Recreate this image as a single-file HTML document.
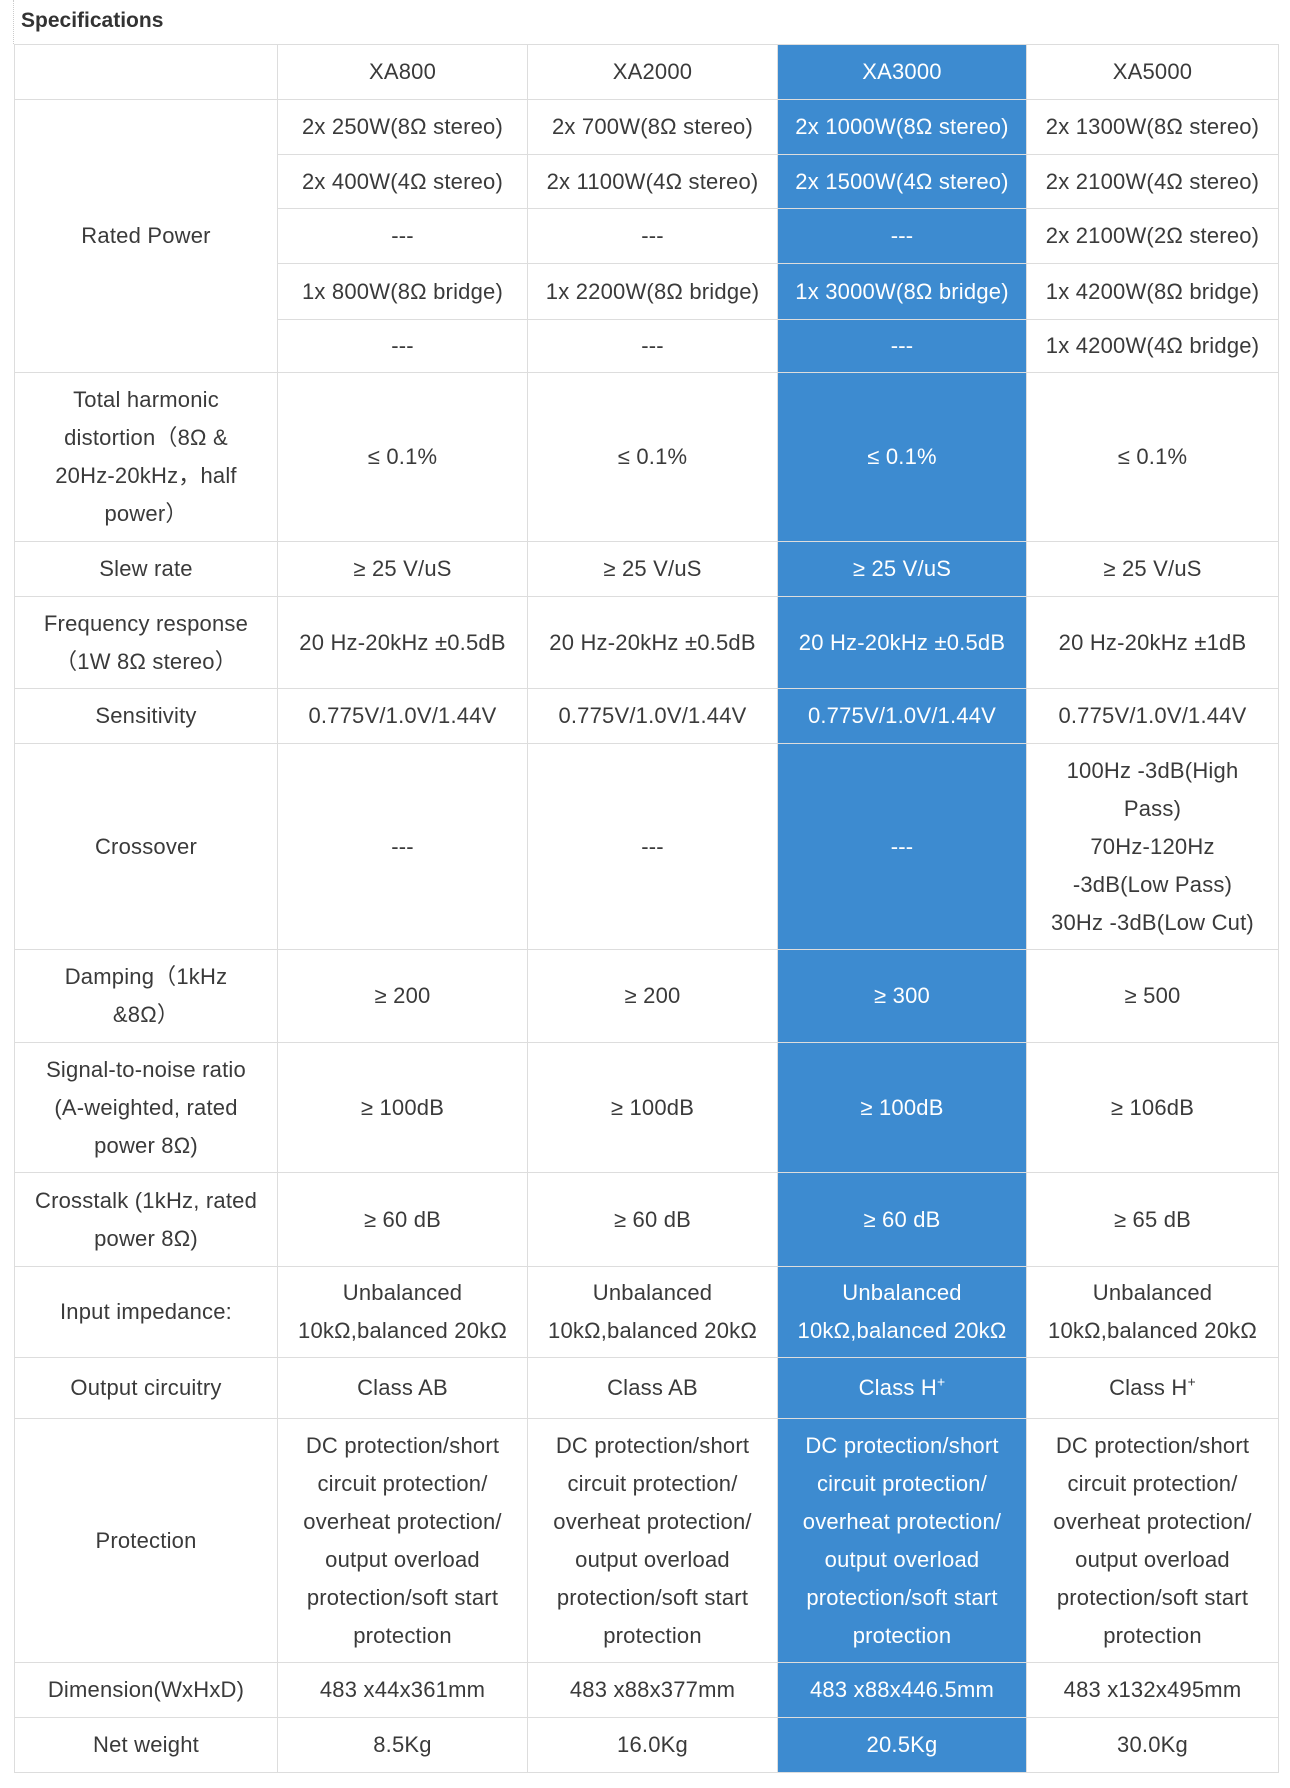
<!DOCTYPE html>
<html><head><meta charset="utf-8"><style>
html,body{margin:0;padding:0;background:#fff;width:1290px;height:1788px;overflow:hidden}
body{font-family:"Liberation Sans",Arial,sans-serif;color:#333}
.title{position:absolute;left:21px;top:9px;font-size:21px;font-weight:bold;color:#333}
.dash{position:absolute;left:13px;top:0;height:44px;border-left:1px dotted #ccc}
table{position:absolute;left:14px;top:44px;border-collapse:collapse;table-layout:fixed;width:1264px}
td{border:1px solid #ddd;text-align:center;vertical-align:middle;font-size:22px;line-height:38px;padding:0 2px;color:#3a3a3a;white-space:nowrap;letter-spacing:0.2px}
td.b{background:#3d8bd0;color:#fff;border-color:#ddd}
sup{font-size:14px;line-height:0}
</style></head><body>
<div class="dash"></div>
<div class="title">Specifications</div>
<table>
<colgroup><col style="width:263px"><col style="width:250px"><col style="width:250px"><col style="width:249px"><col style="width:252px"></colgroup>
<tr style="height:55px"><td></td><td>XA800</td><td>XA2000</td><td class="b">XA3000</td><td>XA5000</td></tr>
<tr style="height:55px"><td rowspan="5">Rated Power</td><td>2x 250W(8Ω stereo)</td><td>2x 700W(8Ω stereo)</td><td class="b">2x 1000W(8Ω stereo)</td><td>2x 1300W(8Ω stereo)</td></tr>
<tr style="height:54px"><td>2x 400W(4Ω stereo)</td><td>2x 1100W(4Ω stereo)</td><td class="b">2x 1500W(4Ω stereo)</td><td>2x 2100W(4Ω stereo)</td></tr>
<tr style="height:55px"><td>---</td><td>---</td><td class="b">---</td><td>2x 2100W(2Ω stereo)</td></tr>
<tr style="height:56px"><td>1x 800W(8Ω bridge)</td><td>1x 2200W(8Ω bridge)</td><td class="b">1x 3000W(8Ω bridge)</td><td>1x 4200W(8Ω bridge)</td></tr>
<tr style="height:53px"><td>---</td><td>---</td><td class="b">---</td><td>1x 4200W(4Ω bridge)</td></tr>
<tr style="height:169px"><td>Total harmonic<br>distortion（8Ω &amp;<br>20Hz-20kHz，half<br>power）</td><td>≤ 0.1%</td><td>≤ 0.1%</td><td class="b">≤ 0.1%</td><td>≤ 0.1%</td></tr>
<tr style="height:55px"><td>Slew rate</td><td>≥ 25 V/uS</td><td>≥ 25 V/uS</td><td class="b">≥ 25 V/uS</td><td>≥ 25 V/uS</td></tr>
<tr style="height:92px"><td>Frequency response<br>（1W 8Ω stereo）</td><td>20 Hz-20kHz ±0.5dB</td><td>20 Hz-20kHz ±0.5dB</td><td class="b">20 Hz-20kHz ±0.5dB</td><td>20 Hz-20kHz ±1dB</td></tr>
<tr style="height:55px"><td>Sensitivity</td><td>0.775V/1.0V/1.44V</td><td>0.775V/1.0V/1.44V</td><td class="b">0.775V/1.0V/1.44V</td><td>0.775V/1.0V/1.44V</td></tr>
<tr style="height:206px"><td>Crossover</td><td>---</td><td>---</td><td class="b">---</td><td>100Hz -3dB(High<br>Pass)<br>70Hz-120Hz<br>-3dB(Low Pass)<br>30Hz -3dB(Low Cut)</td></tr>
<tr style="height:93px"><td>Damping（1kHz<br>&amp;8Ω）</td><td>≥ 200</td><td>≥ 200</td><td class="b">≥ 300</td><td>≥ 500</td></tr>
<tr style="height:130px"><td>Signal-to-noise ratio<br>(A-weighted, rated<br>power 8Ω)</td><td>≥ 100dB</td><td>≥ 100dB</td><td class="b">≥ 100dB</td><td>≥ 106dB</td></tr>
<tr style="height:94px"><td>Crosstalk (1kHz, rated<br>power 8Ω)</td><td>≥ 60 dB</td><td>≥ 60 dB</td><td class="b">≥ 60 dB</td><td>≥ 65 dB</td></tr>
<tr style="height:91px"><td>Input impedance:</td><td>Unbalanced<br>10kΩ,balanced 20kΩ</td><td>Unbalanced<br>10kΩ,balanced 20kΩ</td><td class="b">Unbalanced<br>10kΩ,balanced 20kΩ</td><td>Unbalanced<br>10kΩ,balanced 20kΩ</td></tr>
<tr style="height:61px"><td>Output circuitry</td><td>Class AB</td><td>Class AB</td><td class="b">Class H<sup>+</sup></td><td>Class H<sup>+</sup></td></tr>
<tr style="height:244px"><td>Protection</td><td>DC protection/short<br>circuit protection/<br>overheat protection/<br>output overload<br>protection/soft start<br>protection</td><td>DC protection/short<br>circuit protection/<br>overheat protection/<br>output overload<br>protection/soft start<br>protection</td><td class="b">DC protection/short<br>circuit protection/<br>overheat protection/<br>output overload<br>protection/soft start<br>protection</td><td>DC protection/short<br>circuit protection/<br>overheat protection/<br>output overload<br>protection/soft start<br>protection</td></tr>
<tr style="height:55px"><td>Dimension(WxHxD)</td><td>483 x44x361mm</td><td>483 x88x377mm</td><td class="b">483 x88x446.5mm</td><td>483 x132x495mm</td></tr>
<tr style="height:55px"><td>Net weight</td><td>8.5Kg</td><td>16.0Kg</td><td class="b">20.5Kg</td><td>30.0Kg</td></tr>
</table>
</body></html>
